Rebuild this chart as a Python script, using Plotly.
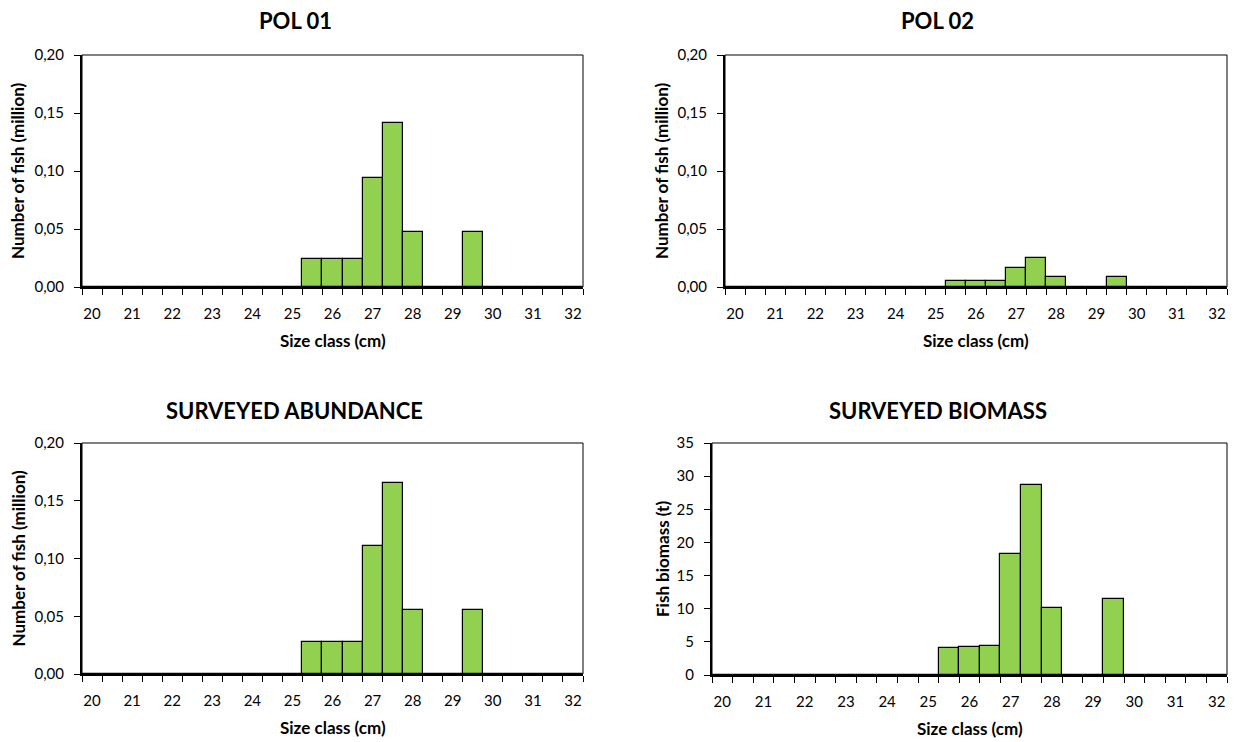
import plotly.graph_objects as go

# ---------------- data ----------------
size_class = [20, 20.5, 21, 21.5, 22, 22.5, 23, 23.5, 24, 24.5, 25, 25.5, 26,
              26.5, 27, 27.5, 28, 28.5, 29, 29.5, 30, 30.5, 31, 31.5, 32]
tick_values = [20, 21, 22, 23, 24, 25, 26, 27, 28, 29, 30, 31, 32]
tick_labels = ["20", "21", "22", "23", "24", "25", "26", "27", "28", "29", "30", "31", "32"]

pol01 = [0, 0, 0, 0, 0, 0, 0, 0, 0, 0, 0, 0.024, 0.024,
         0.024, 0.094, 0.141, 0.047, 0, 0, 0.047, 0, 0, 0, 0, 0]
pol02 = [0, 0, 0, 0, 0, 0, 0, 0, 0, 0, 0, 0.0049, 0.0049,
         0.0049, 0.0167, 0.0253, 0.0084, 0, 0, 0.0084, 0, 0, 0, 0, 0]
abundance = [0, 0, 0, 0, 0, 0, 0, 0, 0, 0, 0, 0.0274, 0.0274,
             0.0274, 0.1105, 0.165, 0.055, 0, 0, 0.055, 0, 0, 0, 0, 0]
biomass = [0, 0, 0, 0, 0, 0, 0, 0, 0, 0, 0, 4.0, 4.2,
           4.4, 18.3, 28.6, 10.1, 0, 0, 11.5, 0, 0, 0, 0, 0]

titles = ["POL 01", "POL 02", "SURVEYED ABUNDANCE", "SURVEYED BIOMASS"]
y_titles = ["Number of fish (million)", "Number of fish (million)",
            "Number of fish (million)", "Fish biomass (t)"]
x_title = "Size class (cm)"

# ---------------- layout geometry ----------------
W, H = 1235, 742
FONT = "Lato"
GREEN = "#92D050"

panels = [
    # x0, x1 (px), ytop, ybottom (px)
    dict(x=(82, 583), y=(55, 287)),
    dict(x=(725, 1227), y=(55, 287)),
    dict(x=(82, 583), y=(443, 674)),
    dict(x=(712, 1227), y=(443, 675)),
]
series = [pol01, pol02, abundance, biomass]
yranges = [[0, 0.2], [0, 0.2], [0, 0.2], [0, 35]]
ydticks = [0.05, 0.05, 0.05, 5]
yformats = [".2f", ".2f", ".2f", "d"]
title_pos = [(295, 21), (937, 21), (294, 410), (938, 410)]
ytitle_x = [18, 662, 18, 662]

fig = go.Figure()
annotations = []
shapes = []

for i, p in enumerate(panels):
    n = "" if i == 0 else str(i + 1)
    xa = "xaxis" + n
    ya = "yaxis" + n
    xd = [p["x"][0] / W, p["x"][1] / W]
    yd = [1 - p["y"][1] / H, 1 - p["y"][0] / H]
    fig.add_trace(go.Bar(
        x=size_class, y=series[i], width=0.5,
        marker=dict(color=GREEN, line=dict(color="black", width=1.2)),
        xaxis="x" + n, yaxis="y" + n, showlegend=False,
        hoverinfo="x+y",
    ))
    fig.layout[xa] = dict(
        domain=xd, range=[19.75, 32.25], anchor="y" + n, automargin=False,
        tickmode="array", tickvals=tick_values, ticktext=tick_labels,
        ticks="", showgrid=False, zeroline=False,
        showline=True, linecolor="black", linewidth=2,
        tickfont=dict(family=FONT, size=15, color="#000"),
        ticklabelstandoff=12,
        minor=dict(ticks="outside", tick0=19.75, dtick=0.5, ticklen=6,
                   tickcolor="black", tickwidth=1.3, showgrid=False),
        fixedrange=True,
    )
    fig.layout[ya] = dict(
        domain=yd, range=yranges[i], anchor="x" + n, automargin=False,
        dtick=ydticks[i], tick0=0, tickformat=yformats[i],
        ticks="outside", ticklen=6, tickcolor="black", tickwidth=1.3,
        showgrid=False, zeroline=False,
        showline=True, linecolor="black", linewidth=2,
        tickfont=dict(family=FONT, size=15, color="#000"),
        ticklabelstandoff=7,
        fixedrange=True,
    )
    # thin plot-area border (top and right)
    shapes.append(dict(type="rect", xref="x" + n + " domain", yref="y" + n + " domain",
                       x0=0, x1=1, y0=0, y1=1, line=dict(color="black", width=1),
                       layer="above"))
    # panel title
    annotations.append(dict(text="<b>" + titles[i] + "</b>", xref="paper", yref="paper",
                            x=title_pos[i][0] / W, y=1 - title_pos[i][1] / H,
                            xanchor="center", yanchor="middle", showarrow=False,
                            font=dict(family=FONT, size=22, color="#000")))
    # y-axis title
    annotations.append(dict(text="<b>" + y_titles[i] + "</b>", xref="paper", yref="paper",
                            x=ytitle_x[i] / W, y=1 - (p["y"][0] + p["y"][1]) / 2 / H,
                            xanchor="center", yanchor="middle", showarrow=False, textangle=-90,
                            font=dict(family=FONT, size=17, color="#000")))
    # x-axis title
    annotations.append(dict(text="<b>" + x_title + "</b>", xref="paper", yref="paper",
                            x=(p["x"][0] + p["x"][1]) / 2 / W, y=1 - (p["y"][1] + 53) / H,
                            xanchor="center", yanchor="middle", showarrow=False,
                            font=dict(family=FONT, size=17, color="#000")))

fig.update_layout(
    template="none",
    width=W, height=H, margin=dict(l=0, r=0, t=0, b=0, pad=0, autoexpand=False),
    paper_bgcolor="white", plot_bgcolor="white",
    separators=",.", bargap=0,
    annotations=annotations, shapes=shapes,
    font=dict(family=FONT, color="#000"),
)

fig.write_html(
    "out.html",
    config={"displayModeBar": False},
    post_script="document.body.style.margin='0';document.body.style.padding='0';"
                "document.documentElement.style.overflow='hidden';",
)
